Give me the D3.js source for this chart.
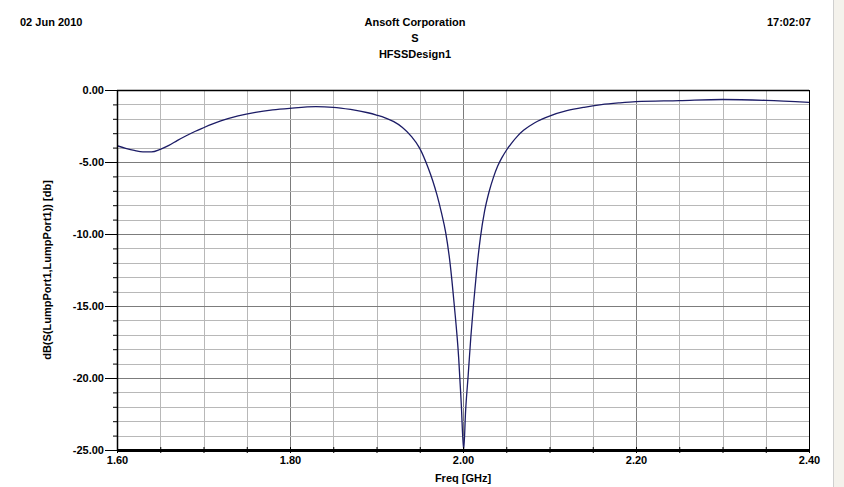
<!DOCTYPE html>
<html>
<head>
<meta charset="utf-8">
<script src="https://cdn.jsdelivr.net/npm/d3@7"></script>
<style>
  html, body { margin: 0; padding: 0; background: #ffffff; }
  svg { display: block; }
  text { font-family: "Liberation Sans", Arial, sans-serif; font-weight: bold; fill: #000; }
</style>
</head>
<body>
<script>
// ---- data ----
const headerLeft = "02 Jun 2010";
const headerCenter = ["Ansoft Corporation", "S", "HFSSDesign1"];
const headerRight = "17:02:07";
const xTitle = "Freq [GHz]";
const yTitle = "dB(S(LumpPort1,LumpPort1)) [db]";

const xMajorTicks = [1.60, 1.80, 2.00, 2.20, 2.40];
const yMajorTicks = [0, -5, -10, -15, -20, -25];

const freq = [1.60,1.61,1.62,1.63,1.64,1.65,1.66,1.67,1.68,1.69,1.70,1.72,1.74,1.76,1.78,1.80,1.83,1.85,1.87,1.89,1.90,1.91,1.92,1.93,1.94,1.95,1.96,1.965,1.97,1.975,1.98,1.985,1.99,1.995,1.998,2.0008,2.003,2.006,2.009,2.012,2.016,2.02,2.025,2.03,2.035,2.04,2.045,2.05,2.056,2.063,2.07,2.083,2.10,2.12,2.14,2.16,2.18,2.20,2.25,2.30,2.35,2.40];
const s11dB = [-3.87,-4.05,-4.2,-4.3,-4.3,-4.12,-3.85,-3.5,-3.18,-2.88,-2.62,-2.15,-1.8,-1.55,-1.38,-1.27,-1.16,-1.2,-1.35,-1.58,-1.74,-1.93,-2.2,-2.6,-3.2,-4.05,-5.45,-6.3,-7.3,-8.5,-9.9,-12.0,-15.0,-18.6,-21.8,-25.0,-22.3,-19.8,-17.2,-15.0,-12.4,-10.3,-8.4,-7.1,-6.1,-5.3,-4.7,-4.2,-3.7,-3.2,-2.8,-2.27,-1.81,-1.44,-1.2,-1.02,-0.9,-0.81,-0.74,-0.66,-0.72,-0.86];

// ---- layout ----
const W = 844, H = 487;
const m = { left: 117, right: 809, top: 90, bottom: 450 };

const svg = d3.select("body").append("svg").attr("width", W).attr("height", H);

// right window edge strip
svg.append("rect").attr("x", 833).attr("y", 0).attr("width", W - 833).attr("height", H).attr("fill", "#f4f2ec");
svg.append("line").attr("x1", 833.5).attr("x2", 833.5).attr("y1", 0).attr("y2", H).attr("stroke", "#cfcfcf");

const x = d3.scaleLinear().domain([1.6, 2.4]).range([m.left, m.right]);
const y = d3.scaleLinear().domain([-25, 0]).range([m.bottom, m.top]);

// header
svg.append("text").attr("x", 20).attr("y", 26).attr("font-size", 11).text(headerLeft);
svg.append("text").attr("x", 811).attr("y", 26).attr("font-size", 11).attr("text-anchor", "end").text(headerRight);
headerCenter.forEach((t, i) => {
  svg.append("text").attr("x", 415).attr("y", 26 + i * 16).attr("font-size", 11).attr("text-anchor", "middle").text(t);
});

// grid
const xMinor = d3.range(0, 17).map(i => 1.6 + i * 0.05);
const yMinor = d3.range(0, 26).map(i => -i);
const g = svg.append("g");
g.selectAll("line.vx").data(xMinor).join("line")
  .attr("x1", d => Math.round(x(d)) + 0.5).attr("x2", d => Math.round(x(d)) + 0.5)
  .attr("y1", m.top).attr("y2", m.bottom)
  .attr("stroke", (d, i) => i % 4 === 0 ? "#7c7c7c" : "#b8b8b8").attr("stroke-width", 1);
g.selectAll("line.hy").data(yMinor).join("line")
  .attr("y1", d => Math.round(y(d)) + 0.5).attr("y2", d => Math.round(y(d)) + 0.5)
  .attr("x1", m.left).attr("x2", m.right)
  .attr("stroke", (d, i) => i % 5 === 0 ? "#7c7c7c" : "#b8b8b8").attr("stroke-width", 1);

// border: top, right
svg.append("line").attr("x1", m.left).attr("x2", m.right).attr("y1", m.top + 0.5).attr("y2", m.top + 0.5).attr("stroke", "#000").attr("stroke-width", 1.5);
svg.append("line").attr("x1", m.right + 0.5).attr("x2", m.right + 0.5).attr("y1", m.top).attr("y2", m.bottom).attr("stroke", "#000").attr("stroke-width", 1);

// curve
svg.append("clipPath").attr("id", "clip").append("rect")
  .attr("x", m.left).attr("y", m.top).attr("width", m.right - m.left).attr("height", m.bottom - m.top + 1);
const pts = freq.map((f, i) => [f, s11dB[i]]);
svg.append("path").datum(pts)
  .attr("clip-path", "url(#clip)")
  .attr("fill", "none").attr("stroke", "#1c1c66").attr("stroke-width", 1.3)
  .attr("d", d3.line().x(d => x(d[0])).y(d => y(d[1])).curve(d3.curveMonotoneX));

// y axis
const yAxisMinor = d3.axisLeft(y).tickValues(yMinor).tickSize(4).tickFormat("");
const ya = svg.append("g").attr("transform", `translate(${m.left},0)`).call(yAxisMinor);
ya.select(".domain").remove();
ya.selectAll("line").attr("stroke", "#000");
const yAxis = d3.axisLeft(y).tickValues(yMajorTicks).tickSize(12).tickPadding(1).tickFormat(d => d.toFixed(2));
const yb = svg.append("g").attr("transform", `translate(${m.left},0)`).call(yAxis);
yb.select(".domain").remove();
yb.selectAll("line").attr("stroke", "#000");
yb.selectAll("text").attr("font-size", 11).attr("font-family", "Liberation Sans, Arial").attr("font-weight", "bold").attr("fill", "#000");
svg.append("line").attr("x1", m.left + 0.5).attr("x2", m.left + 0.5).attr("y1", m.top).attr("y2", m.bottom).attr("stroke", "#000").attr("stroke-width", 1.5);

// x axis
const xAxisMinor = d3.axisBottom(x).tickValues(xMinor).tickSize(3).tickFormat("");
const xa = svg.append("g").attr("transform", `translate(0,${m.bottom})`).call(xAxisMinor);
xa.select(".domain").remove();
xa.selectAll("line").attr("stroke", "#000").attr("y1", -3);
const xAxis = d3.axisBottom(x).tickValues(xMajorTicks).tickSize(0).tickPadding(6).tickFormat(d => d.toFixed(2));
const xb = svg.append("g").attr("transform", `translate(0,${m.bottom})`).call(xAxis);
xb.select(".domain").remove();
xb.selectAll("text").attr("font-size", 11).attr("font-family", "Liberation Sans, Arial").attr("font-weight", "bold").attr("fill", "#000");
svg.append("line").attr("x1", m.left).attr("x2", m.right + 1).attr("y1", m.bottom + 0.5).attr("y2", m.bottom + 0.5).attr("stroke", "#000").attr("stroke-width", 3);

// axis titles
svg.append("text").attr("x", (m.left + m.right) / 2).attr("y", 482).attr("font-size", 11).attr("text-anchor", "middle").text(xTitle);
svg.append("text").attr("transform", `translate(51,${(m.top + m.bottom) / 2}) rotate(-90)`)
  .attr("font-size", 11).attr("text-anchor", "middle").text(yTitle);
</script>
</body>
</html>
